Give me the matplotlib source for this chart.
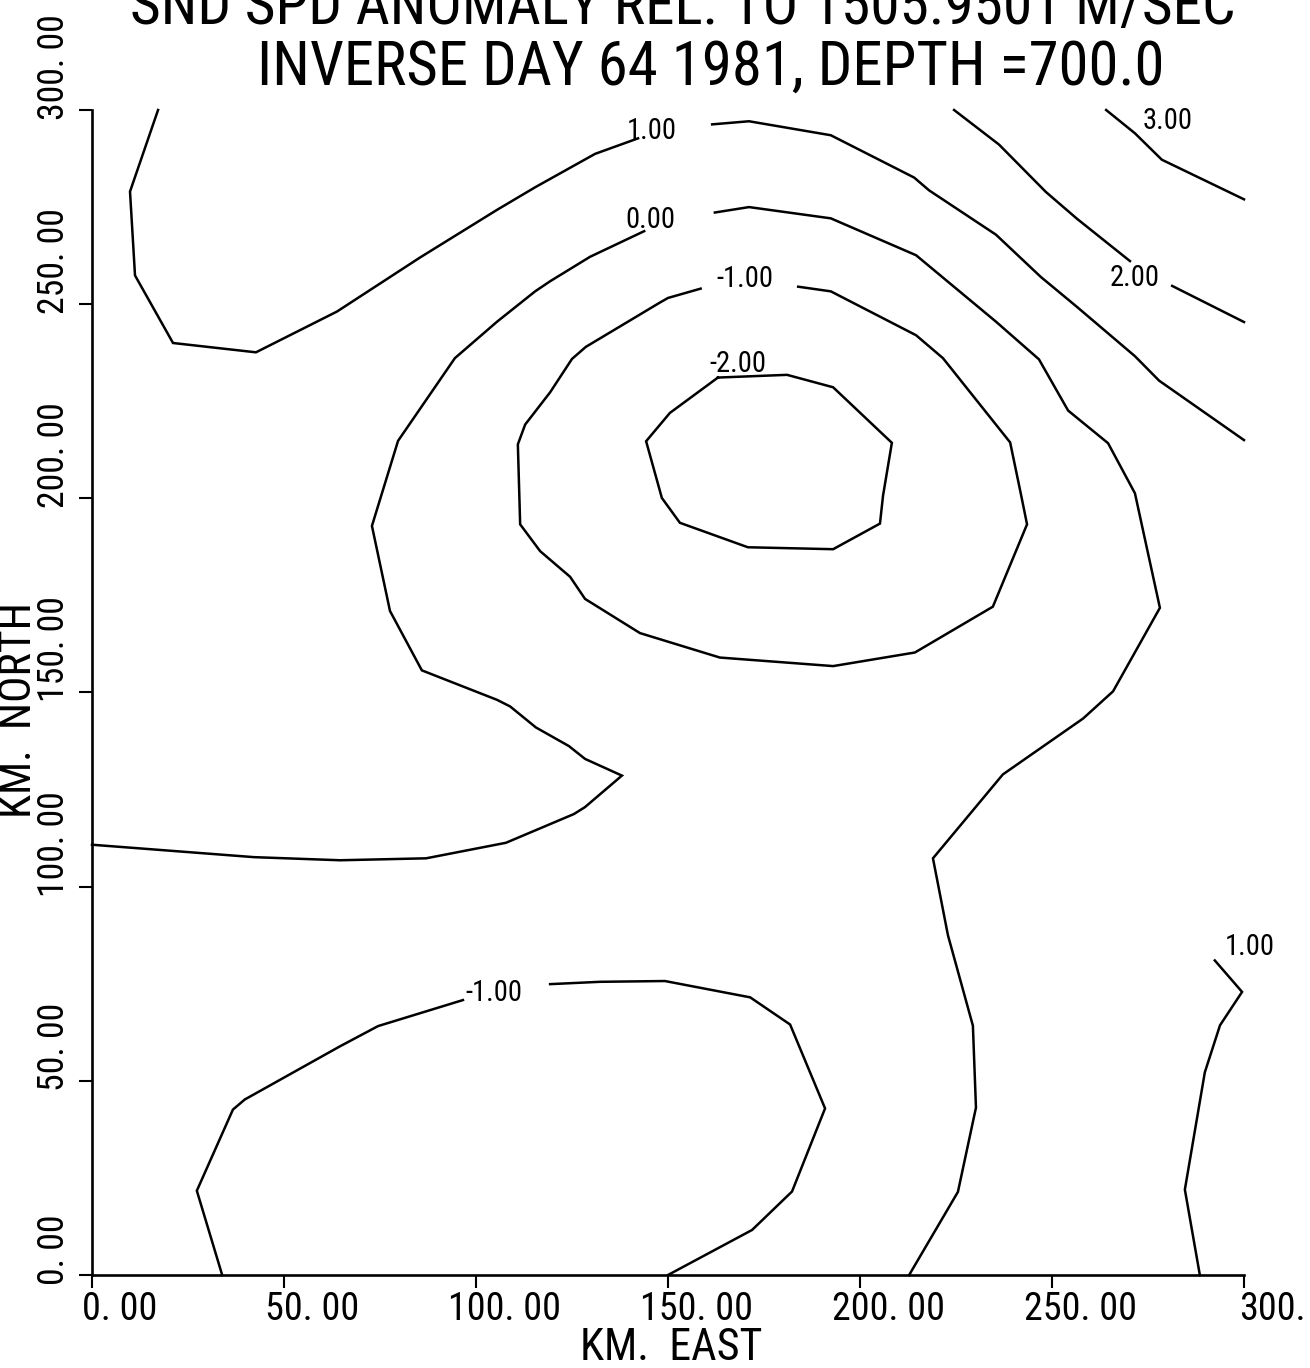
import matplotlib
matplotlib.use("Agg")
import matplotlib.pyplot as plt
from matplotlib import font_manager
from matplotlib.transforms import offset_copy

# ---------------- data (km) ----------------
x_ticks = [0, 50, 100, 150, 200, 250, 300]
y_ticks = [0, 50, 100, 150, 200, 250, 300]
x_tick_labels = ["0. 00", "50. 00", "100. 00", "150. 00", "200. 00", "250. 00", "300."]
y_tick_labels = ["0. 00", "50. 00", "100. 00", "150. 00", "200. 00", "250. 00", "300. 00"]

title_1 = "SND SPD ANOMALY REL. TO 1505.9501 M/SEC"
title_2 = "INVERSE DAY 64 1981, DEPTH =700.0"
x_label = "KM.  EAST"
y_label = "KM.  NORTH"

# contour level +1.00 (north-west, across the top)
c1_west_x = [17.2, 9.9, 11.2, 21.1, 42.7, 63.8, 85.4, 105.5, 115.4, 131.0, 142.2]
c1_west_y = [300.0, 279.0, 257.4, 240.0, 237.6, 248.1, 262.0, 274.3, 280.1, 288.7, 292.7]
c1_east_x = [161.5, 171.1, 192.4, 214.1, 218.0, 235.4, 247.1, 256.5, 271.6, 277.9, 300.0]
c1_east_y = [296.3, 297.1, 293.5, 282.6, 279.3, 267.9, 257.0, 249.3, 236.6, 230.3, 215.0]

# contour level 0.00
c0_west_x = [143.8, 129.7, 119.3, 115.4, 105.5, 94.5, 79.7, 72.9, 77.6, 85.9, 105.5, 108.9,
             115.6, 124.2, 128.4, 138.0, 128.4, 125.5, 107.8, 87.0, 64.6, 42.2, 0.0]
c0_west_y = [268.8, 262.2, 255.9, 253.3, 245.5, 236.1, 214.8, 192.9, 171.0, 155.7, 148.1, 146.4,
             141.0, 136.2, 132.9, 128.6, 120.5, 118.7, 111.3, 107.3, 106.8, 107.6, 110.8]
c0_east_x = [162.2, 171.1, 192.4, 214.6, 235.4, 246.6, 254.2, 264.6, 271.6, 278.1, 265.9, 258.1,
             237.2, 219.0, 222.9, 229.4, 230.2, 225.5, 212.8]
c0_east_y = [273.6, 275.0, 272.1, 262.6, 245.5, 235.8, 222.6, 214.2, 201.3, 171.8, 150.3, 143.3,
             128.9, 107.3, 87.5, 64.2, 43.1, 21.4, 0.0]

# contour level -1.00 (northern loop)
cm1_north_x = [158.5, 150.0, 147.7, 128.6, 125.0, 119.3, 112.8, 110.9, 111.5, 116.7, 124.5, 128.4,
               142.7, 163.5, 193.0, 214.3, 234.6, 243.5, 241.9, 239.1, 221.6, 214.6, 192.4, 183.9]
cm1_north_y = [254.0, 251.6, 250.3, 239.0, 235.9, 227.3, 219.0, 213.9, 193.3, 186.4, 179.8, 174.1,
               165.3, 159.0, 156.8, 160.3, 172.1, 193.3, 201.1, 214.4, 236.1, 242.0, 253.3, 254.5]

# contour level -2.00 (loop)
cm2_x = [163.0, 150.5, 144.3, 148.4, 153.1, 170.8, 193.0, 205.2, 206.0, 208.3, 193.0, 181.0]
cm2_y = [231.1, 222.0, 214.7, 200.1, 193.7, 187.4, 186.9, 193.5, 200.7, 214.3, 228.6, 231.8]

# contour level +2.00
c2_west_x = [224.5, 236.2, 248.4, 256.5, 270.3]
c2_west_y = [300.0, 291.1, 278.9, 272.0, 261.1]
c2_east_x = [281.3, 300.0]
c2_east_y = [254.7, 245.4]

# contour level +3.00
c3_x = [264.1, 271.6, 278.6, 300.0]
c3_y = [300.0, 294.0, 287.2, 277.0]

# contour level -1.00 (southern)
cm1_south_west_x = [96.6, 74.5, 64.6, 39.8, 36.7, 27.3, 33.9]
cm1_south_west_y = [70.8, 64.1, 58.9, 45.2, 42.6, 21.7, 0.0]
cm1_south_east_x = [119.3, 132.3, 149.2, 171.4, 181.8, 190.9, 182.3, 171.9, 150.0]
cm1_south_east_y = [74.9, 75.5, 75.7, 71.5, 64.5, 42.9, 21.5, 11.6, 0.0]

# contour level +1.00 (south-east)
c1_se_x = [292.4, 299.5, 293.75, 289.8, 284.6, 288.5]
c1_se_y = [81.0, 72.9, 64.3, 52.2, 22.0, 0.0]

# contour labels
label_text = ["1.00", "0.00", "-1.00", "-2.00", "2.00", "3.00", "-1.00", "1.00"]
label_x = [145.8, 145.3, 170.1, 168.2, 271.6, 280.0, 104.7, 301.6]
label_y = [294.6, 271.6, 256.4, 234.5, 256.7, 297.2, 72.7, 84.5]

# ---------------- style / layout ----------------
fonts = font_manager.fontManager.ttflist
names = {f.name for f in fonts}
STRETCH = "normal"
if "Liberation Sans Narrow" in names:
    FAM = ["Liberation Sans Narrow"]
elif "Roboto Condensed" in names:
    FAM = ["Roboto Condensed"]
elif any(f.name == "DejaVu Sans" and "condensed" in str(f.stretch) for f in fonts):
    FAM = ["DejaVu Sans"]
    STRETCH = "condensed"
elif "Liberation Sans" in names:
    FAM = ["Liberation Sans"]
else:
    FAM = ["DejaVu Sans"]
plt.rcParams["font.family"] = FAM + ["DejaVu Sans"]
plt.rcParams["font.stretch"] = STRETCH

W, H = 1310, 1368
fig = plt.figure(figsize=(W / 100, H / 100), dpi=100)
fig.patch.set_facecolor("white")
ax = fig.add_axes([92 / W, 1 - 1275 / H, 1152 / W, 1165 / H])
ax.set_xlim(0, 300)
ax.set_ylim(0, 300)
for s in ("top", "right"):
    ax.spines[s].set_visible(False)
for s in ("left", "bottom"):
    ax.spines[s].set_linewidth(1.9)
ax.set_xticks(x_ticks)
ax.set_yticks(y_ticks)
ax.tick_params(direction="out", length=9.5, width=1.5, labelbottom=False, labelleft=False)

LW = 1.8
for xs, ys in [(c1_west_x, c1_west_y), (c1_east_x, c1_east_y),
               (c0_west_x, c0_west_y), (c0_east_x, c0_east_y),
               (cm1_north_x, cm1_north_y), (cm2_x + cm2_x[:1], cm2_y + cm2_y[:1]),
               (c2_west_x, c2_west_y), (c2_east_x, c2_east_y), (c3_x, c3_y),
               (cm1_south_west_x, cm1_south_west_y), (cm1_south_east_x, cm1_south_east_y),
               (c1_se_x, c1_se_y)]:
    ax.plot(xs, ys, color="black", lw=LW, clip_on=False, solid_joinstyle="miter")

clabels = []
for t, x, y in zip(label_text, label_x, label_y):
    clabels.append(ax.text(x, y, t, ha="center", va="center", fontsize=20,
                           color="black", clip_on=False))

# tick labels
xt = offset_copy(ax.get_xaxis_transform(), fig=fig, x=28, y=-45, units="dots")
xlabs = [ax.text(v, 0, s, transform=xt, ha="center", va="baseline", fontsize=28)
         for v, s in zip(x_ticks, x_tick_labels)]
yt = offset_copy(ax.get_yaxis_transform(), fig=fig, x=-38, y=-10, units="dots")
ylabs = [ax.text(0, v, s, transform=yt, rotation=90, ha="center", va="bottom", fontsize=28)
         for v, s in zip(y_ticks, y_tick_labels)]

tx = fig.text(671 / W, 1 - 1360 / H, x_label, ha="center", va="baseline", fontsize=37)
ty = fig.text(19 / W, 1 - 710 / H, y_label, ha="center", va="center", rotation=90, fontsize=36)
t1 = fig.text(683 / W, 1 - 24 / H, title_1, ha="center", va="baseline", fontsize=44)
t2 = fig.text(711 / W, 1 - 85 / H, title_2, ha="center", va="baseline", fontsize=44)

# size texts so their lengths match the reference
fig.canvas.draw()
r = fig.canvas.get_renderer()


def fit(objs, ref, target, vertical=False):
    bb = ref.get_window_extent(r)
    length = bb.height if vertical else bb.width
    size = ref.get_fontsize() * target / length
    for o in objs:
        o.set_fontsize(size)


fit([t1], t1, 1105)
fit([t2], t2, 907)
fit([tx], tx, 182)
fit([ty], ty, 216, vertical=True)
fit(xlabs, xlabs[2], 113)
fit(ylabs, ylabs[2], 106, vertical=True)
fit(clabels, clabels[0], 50)

fig.savefig("out.png", dpi=100, facecolor="white")
